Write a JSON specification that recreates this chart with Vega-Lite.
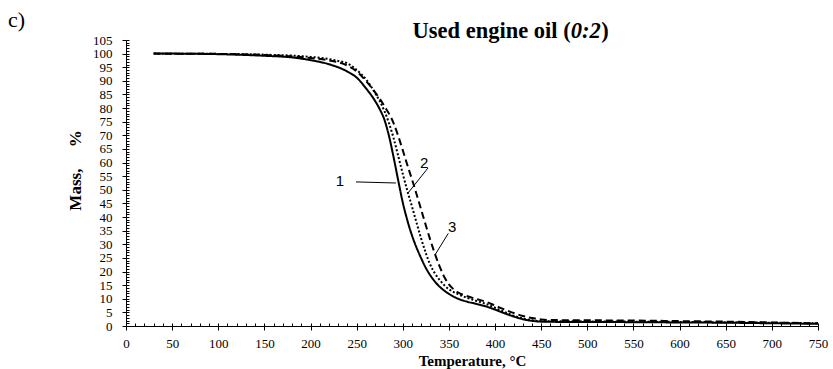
{
  "$schema": "https://vega.github.io/schema/vega-lite/v6.json",
  "width": 692,
  "height": 286,
  "autosize": "none",
  "padding": {"left": 126, "top": 40, "right": 15, "bottom": 43},
  "background": "white",
  "config": {"view": {"stroke": null}},
  "datasets": {
    "curves": [
      {"series": "1", "T": 30, "mass": 100}, {"series": "1", "T": 50, "mass": 100}, {"series": "1", "T": 100, "mass": 99.8}, {"series": "1", "T": 150, "mass": 99.2}, {"series": "1", "T": 180, "mass": 98.6}, {"series": "1", "T": 200, "mass": 97.6}, {"series": "1", "T": 220, "mass": 96.1}, {"series": "1", "T": 240, "mass": 93.4}, {"series": "1", "T": 250, "mass": 91.2}, {"series": "1", "T": 260, "mass": 87.3}, {"series": "1", "T": 270, "mass": 82.6}, {"series": "1", "T": 275, "mass": 79.6}, {"series": "1", "T": 280, "mass": 75.8}, {"series": "1", "T": 285, "mass": 69.8}, {"series": "1", "T": 290, "mass": 62}, {"series": "1", "T": 295, "mass": 53.5}, {"series": "1", "T": 300, "mass": 45.3}, {"series": "1", "T": 305, "mass": 38.7}, {"series": "1", "T": 310, "mass": 33.2}, {"series": "1", "T": 315, "mass": 28.7}, {"series": "1", "T": 320, "mass": 24.8}, {"series": "1", "T": 325, "mass": 21.3}, {"series": "1", "T": 330, "mass": 18.5}, {"series": "1", "T": 335, "mass": 16.2}, {"series": "1", "T": 340, "mass": 14.4}, {"series": "1", "T": 350, "mass": 11.8}, {"series": "1", "T": 360, "mass": 10}, {"series": "1", "T": 370, "mass": 8.9}, {"series": "1", "T": 380, "mass": 8.1}, {"series": "1", "T": 390, "mass": 7.2}, {"series": "1", "T": 400, "mass": 6}, {"series": "1", "T": 410, "mass": 4.7}, {"series": "1", "T": 420, "mass": 3.5}, {"series": "1", "T": 430, "mass": 2.5}, {"series": "1", "T": 440, "mass": 1.9}, {"series": "1", "T": 450, "mass": 1.6}, {"series": "1", "T": 475, "mass": 1.5}, {"series": "1", "T": 500, "mass": 1.5}, {"series": "1", "T": 550, "mass": 1.4}, {"series": "1", "T": 600, "mass": 1.3}, {"series": "1", "T": 650, "mass": 1.2}, {"series": "1", "T": 700, "mass": 1.0}, {"series": "1", "T": 750, "mass": 0.8},
      {"series": "2", "T": 30, "mass": 100}, {"series": "2", "T": 100, "mass": 99.9}, {"series": "2", "T": 150, "mass": 99.6}, {"series": "2", "T": 200, "mass": 98.8}, {"series": "2", "T": 220, "mass": 98}, {"series": "2", "T": 230, "mass": 97.3}, {"series": "2", "T": 240, "mass": 96.4}, {"series": "2", "T": 250, "mass": 94}, {"series": "2", "T": 260, "mass": 90.6}, {"series": "2", "T": 270, "mass": 85.5}, {"series": "2", "T": 280, "mass": 79}, {"series": "2", "T": 285, "mass": 74.5}, {"series": "2", "T": 290, "mass": 69}, {"series": "2", "T": 295, "mass": 62.5}, {"series": "2", "T": 300, "mass": 55.8}, {"series": "2", "T": 305, "mass": 49.6}, {"series": "2", "T": 310, "mass": 43.8}, {"series": "2", "T": 315, "mass": 37.8}, {"series": "2", "T": 320, "mass": 32}, {"series": "2", "T": 325, "mass": 26.7}, {"series": "2", "T": 330, "mass": 22.3}, {"series": "2", "T": 335, "mass": 19.2}, {"series": "2", "T": 340, "mass": 16.9}, {"series": "2", "T": 350, "mass": 13.5}, {"series": "2", "T": 360, "mass": 11.7}, {"series": "2", "T": 370, "mass": 10.3}, {"series": "2", "T": 380, "mass": 9.2}, {"series": "2", "T": 390, "mass": 8.1}, {"series": "2", "T": 400, "mass": 6.7}, {"series": "2", "T": 410, "mass": 5.2}, {"series": "2", "T": 420, "mass": 3.8}, {"series": "2", "T": 430, "mass": 2.8}, {"series": "2", "T": 440, "mass": 2.1}, {"series": "2", "T": 450, "mass": 1.8}, {"series": "2", "T": 500, "mass": 1.7}, {"series": "2", "T": 600, "mass": 1.5}, {"series": "2", "T": 700, "mass": 1.2}, {"series": "2", "T": 750, "mass": 1.0},
      {"series": "3", "T": 30, "mass": 100}, {"series": "3", "T": 100, "mass": 99.9}, {"series": "3", "T": 150, "mass": 99.5}, {"series": "3", "T": 200, "mass": 98.4}, {"series": "3", "T": 220, "mass": 97.5}, {"series": "3", "T": 240, "mass": 95.6}, {"series": "3", "T": 250, "mass": 93.5}, {"series": "3", "T": 260, "mass": 90}, {"series": "3", "T": 270, "mass": 85.8}, {"series": "3", "T": 280, "mass": 80.8}, {"series": "3", "T": 290, "mass": 74.5}, {"series": "3", "T": 295, "mass": 69.8}, {"series": "3", "T": 300, "mass": 64.5}, {"series": "3", "T": 305, "mass": 59}, {"series": "3", "T": 310, "mass": 53.8}, {"series": "3", "T": 315, "mass": 48.3}, {"series": "3", "T": 320, "mass": 42.6}, {"series": "3", "T": 325, "mass": 36.9}, {"series": "3", "T": 330, "mass": 31.4}, {"series": "3", "T": 335, "mass": 26.3}, {"series": "3", "T": 340, "mass": 21.8}, {"series": "3", "T": 345, "mass": 18}, {"series": "3", "T": 350, "mass": 15.3}, {"series": "3", "T": 355, "mass": 13.5}, {"series": "3", "T": 360, "mass": 12.3}, {"series": "3", "T": 370, "mass": 10.9}, {"series": "3", "T": 380, "mass": 9.9}, {"series": "3", "T": 390, "mass": 8.9}, {"series": "3", "T": 400, "mass": 7.5}, {"series": "3", "T": 410, "mass": 6.1}, {"series": "3", "T": 420, "mass": 4.8}, {"series": "3", "T": 430, "mass": 3.7}, {"series": "3", "T": 440, "mass": 2.9}, {"series": "3", "T": 450, "mass": 2.4}, {"series": "3", "T": 460, "mass": 2.2}, {"series": "3", "T": 500, "mass": 2.1}, {"series": "3", "T": 550, "mass": 2.0}, {"series": "3", "T": 600, "mass": 1.8}, {"series": "3", "T": 650, "mass": 1.6}, {"series": "3", "T": 700, "mass": 1.3}, {"series": "3", "T": 750, "mass": 1.0}
    ],
    "labels": [
      {"label": "1", "T": 231.9, "mass": 53.4},
      {"label": "2", "T": 323.2, "mass": 59.7},
      {"label": "3", "T": 353.5, "mass": 36.2}
    ],
    "leaders": [
      {"T": 249.3, "mass": 52.9, "T2": 292.5, "mass2": 52.5},
      {"T": 327.3, "mass": 58.0, "T2": 305.6, "mass2": 48.8},
      {"T": 349.3, "mass": 34.0, "T2": 334.9, "mass2": 26.1}
    ],
    "panel": [
      {"text": "c)", "T": -127.9, "mass": 109.6}
    ],
    "titleStart": [
      {"text": "Used engine oil (", "T": 482, "mass": 105.9}
    ],
    "titleItalic": [
      {"text": "0:2", "T": 482, "mass": 105.9}
    ],
    "titleEnd": [
      {"text": ")", "T": 515, "mass": 105.9}
    ]
  },
  "resolve": {"axis": {"x": "independent", "y": "independent"}},
  "layer": [
    {
      "data": {"name": "curves"},
      "mark": {"type": "line", "color": "black", "strokeWidth": 2, "interpolate": "monotone"},
      "encoding": {
        "x": {
          "field": "T", "type": "quantitative",
          "scale": {"domain": [0, 750], "nice": false, "zero": false},
          "axis": {
            "orient": "bottom",
            "values": [0, 50, 100, 150, 200, 250, 300, 350, 400, 450, 500, 550, 600, 650, 700, 750],
            "grid": false, "tickSize": 4, "tickColor": "black", "tickWidth": 1,
            "domainColor": "black", "domainWidth": 1,
            "labelFont": "Liberation Serif", "labelFontSize": 13, "labelColor": "black",
            "labelPadding": 7, "labelFlush": false, "labelOverlap": false,
            "title": "Temperature, °C", "titleFont": "Liberation Serif", "titleFontSize": 15,
            "titleFontWeight": "bold", "titleColor": "black", "titlePadding": 3
          }
        },
        "y": {
          "field": "mass", "type": "quantitative",
          "scale": {"domain": [0, 105], "nice": false, "zero": false},
          "axis": {
            "orient": "left",
            "values": [0, 5, 10, 15, 20, 25, 30, 35, 40, 45, 50, 55, 60, 65, 70, 75, 80, 85, 90, 95, 100, 105],
            "grid": false, "tickSize": 4, "tickColor": "black", "tickWidth": 1,
            "domainColor": "black", "domainWidth": 1,
            "labelFont": "Liberation Serif", "labelFontSize": 13, "labelColor": "black",
            "labelPadding": 10, "labelFlush": false, "labelOverlap": false, "labelBaseline": "middle",
            "title": "Mass,\u00a0\u00a0\u00a0\u00a0\u00a0%", "titleFont": "Liberation Serif", "titleFontSize": 17,
            "titleFontWeight": "bold", "titleColor": "black", "titleX": -42, "titleY": 130
          }
        },
        "strokeDash": {
          "field": "series", "type": "nominal",
          "scale": {"domain": ["1", "2", "3"], "range": [[1, 0], [2, 2], [7, 4]]},
          "legend": null
        },
        "detail": {"field": "series"}
      }
    },
    {
      "data": {"name": "leaders"},
      "mark": {"type": "rule", "color": "black", "strokeWidth": 1},
      "encoding": {
        "x": {"field": "T", "type": "quantitative",
          "axis": {"orient": "bottom", "values": [0,10,20,30,40,50,60,70,80,90,100,110,120,130,140,150,160,170,180,190,200,210,220,230,240,250,260,270,280,290,300,310,320,330,340,350,360,370,380,390,400,410,420,430,440,450,460,470,480,490,500,510,520,530,540,550,560,570,580,590,600,610,620,630,640,650,660,670,680,690,700,710,720,730,740,750],
            "grid": false, "domain": false, "labels": false, "title": null, "tickSize": -3, "tickColor": "black", "tickWidth": 1}},
        "y": {"field": "mass", "type": "quantitative",
          "axis": {"orient": "left", "values": [0,1,2,3,4,5,6,7,8,9,10,11,12,13,14,15,16,17,18,19,20,21,22,23,24,25,26,27,28,29,30,31,32,33,34,35,36,37,38,39,40,41,42,43,44,45,46,47,48,49,50,51,52,53,54,55,56,57,58,59,60,61,62,63,64,65,66,67,68,69,70,71,72,73,74,75,76,77,78,79,80,81,82,83,84,85,86,87,88,89,90,91,92,93,94,95,96,97,98,99,100,101,102,103,104,105],
            "grid": false, "domain": false, "labels": false, "title": null, "tickSize": -3, "tickColor": "black", "tickWidth": 1}},
        "x2": {"field": "T2"},
        "y2": {"field": "mass2"}
      }
    },
    {
      "data": {"name": "labels"},
      "mark": {"type": "text", "font": "Liberation Sans", "fontSize": 15, "color": "black", "align": "center", "baseline": "middle"},
      "encoding": {
        "x": {"field": "T", "type": "quantitative", "axis": null},
        "y": {"field": "mass", "type": "quantitative", "axis": null},
        "text": {"field": "label"}
      }
    },
    {
      "data": {"name": "panel"},
      "mark": {"type": "text", "font": "Liberation Serif", "fontSize": 22, "color": "black", "align": "left", "baseline": "alphabetic"},
      "encoding": {
        "x": {"field": "T", "type": "quantitative", "axis": null},
        "y": {"field": "mass", "type": "quantitative", "axis": null},
        "text": {"field": "text"}
      }
    },
    {
      "data": {"name": "titleStart"},
      "mark": {"type": "text", "font": "Liberation Serif", "fontSize": 22.5, "fontWeight": "bold", "color": "black", "align": "right", "baseline": "alphabetic"},
      "encoding": {
        "x": {"field": "T", "type": "quantitative", "axis": null},
        "y": {"field": "mass", "type": "quantitative", "axis": null},
        "text": {"field": "text"}
      }
    },
    {
      "data": {"name": "titleItalic"},
      "mark": {"type": "text", "font": "Liberation Serif", "fontSize": 22.5, "fontWeight": "bold", "fontStyle": "italic", "color": "black", "align": "left", "baseline": "alphabetic"},
      "encoding": {
        "x": {"field": "T", "type": "quantitative", "axis": null},
        "y": {"field": "mass", "type": "quantitative", "axis": null},
        "text": {"field": "text"}
      }
    },
    {
      "data": {"name": "titleEnd"},
      "mark": {"type": "text", "font": "Liberation Serif", "fontSize": 22.5, "fontWeight": "bold", "color": "black", "align": "left", "baseline": "alphabetic"},
      "encoding": {
        "x": {"field": "T", "type": "quantitative", "axis": null},
        "y": {"field": "mass", "type": "quantitative", "axis": null},
        "text": {"field": "text"}
      }
    }
  ]
}
